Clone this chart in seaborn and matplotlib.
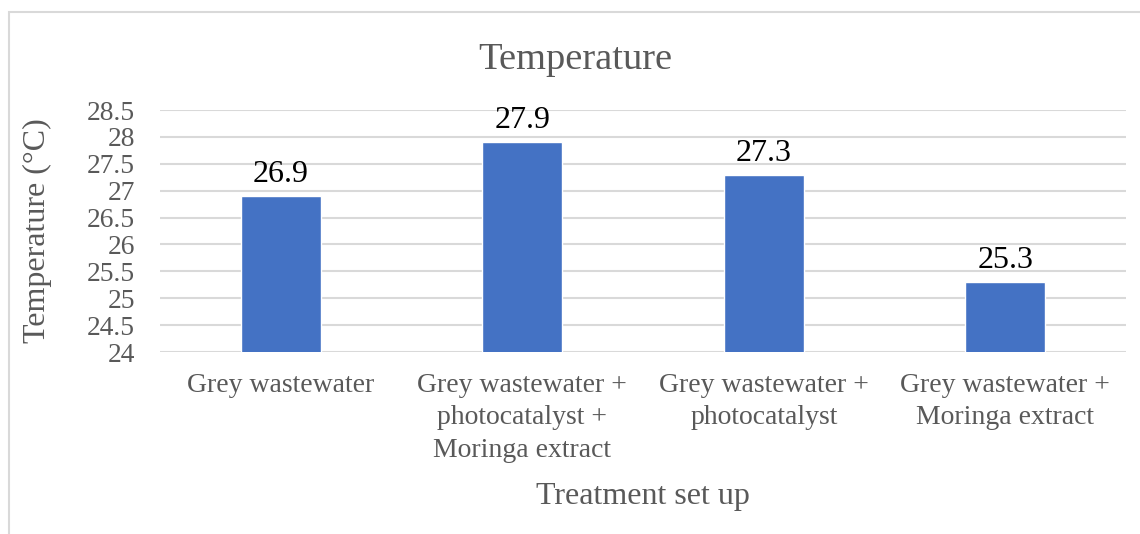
import matplotlib
matplotlib.use("Agg")
import matplotlib.pyplot as plt
import matplotlib.patches as mpatches
import seaborn as sns
import pandas as pd

categories = ["Grey wastewater",
              "Grey wastewater +\nphotocatalyst +\nMoringa extract",
              "Grey wastewater +\nphotocatalyst",
              "Grey wastewater +\nMoringa extract"]
temperatures = [26.9, 27.9, 27.3, 25.3]
y_ticks = [24, 24.5, 25, 25.5, 26, 26.5, 27, 27.5, 28, 28.5]
y_tick_labels = ["24", "24.5", "25", "25.5", "26", "26.5", "27", "27.5", "28", "28.5"]

df = pd.DataFrame({"cat": categories, "temp": temperatures})

sns.set_style("white")
plt.rcParams['font.family'] = ['Liberation Serif', 'DejaVu Serif']

fig = plt.figure(figsize=(11.4, 5.34), dpi=100)
ax = fig.add_axes([0.1404, 0.3408, 0.8474, 0.4532])

sns.barplot(data=df, x="cat", y="temp", color="#4472C4", width=0.33,
            saturation=1, ax=ax, zorder=3)

ax.set_ylim(24, 28.5)
ax.set_yticks(y_ticks)
ax.set_yticklabels(y_tick_labels)
ax.grid(axis="y", color="#D9D9D9", lw=1.5, zorder=0)
ax.set_axisbelow(True)
for s in ax.spines.values():
    s.set_visible(False)

gray = "#595959"
ax.tick_params(axis="y", length=0, pad=18, labelsize=19.8, labelcolor=gray)
ax.tick_params(axis="x", length=0, pad=15, labelsize=20, labelcolor=gray)
for lab in ax.get_xticklabels():
    lab.set_linespacing(1.4)

for c in ax.containers:
    ax.bar_label(c, labels=[f"{v:.1f}" for v in temperatures], padding=5,
                 fontsize=23, color="#000000")

ax.set_xlabel("Treatment set up", fontsize=23, color=gray, labelpad=14)
ax.set_ylabel("Temperature (°C)", fontsize=23, color=gray)
ax.yaxis.set_label_coords(-0.112, 0.5)
fig.text(0.5048, 0.888, "Temperature", ha="center", va="center",
         fontsize=27.7, color=gray)

border = mpatches.Rectangle((0.0075, -0.5), 2.0, 0.9775 + 0.5,
                            transform=fig.transFigure, fill=False,
                            edgecolor="#D9D9D9", lw=1.5)
fig.patches.append(border)

fig.savefig("out.png", dpi=100)
